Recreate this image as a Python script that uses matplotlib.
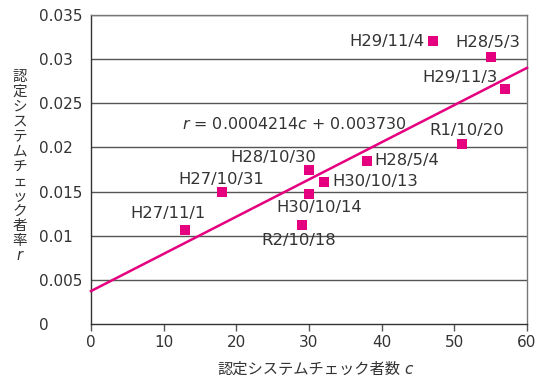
import matplotlib
matplotlib.use("Agg")
import matplotlib.pyplot as plt

plt.rcParams["font.family"] = ["DejaVu Sans", "Noto Sans CJK JP"]
plt.rcParams["mathtext.fontset"] = "dejavusans"

# data
labels = ["H27/11/1", "H27/10/31", "H28/10/30", "H30/10/13", "H30/10/14",
          "R2/10/18", "H28/5/4", "R1/10/20", "H29/11/4", "H28/5/3", "H29/11/3"]
checkers = [13, 18, 30, 32, 30, 29, 38, 51, 47, 55, 57]
rates = [0.0107, 0.0150, 0.0174, 0.0161, 0.0147, 0.0112,
         0.0185, 0.0204, 0.0320, 0.0302, 0.0266]
slope = 0.0004214
intercept = 0.003730
x_ticks = [0, 10, 20, 30, 40, 50, 60]
y_ticks = [0, 0.005, 0.01, 0.015, 0.02, 0.025, 0.03, 0.035]
y_tick_labels = ["0", "0.005", "0.01", "0.015", "0.02", "0.025", "0.03", "0.035"]

# label offsets (pixels, +y up) and horizontal alignment
label_pos = {
    "H27/11/1": (-17, 16, "center"),
    "H27/10/31": (-1, 12, "center"),
    "H28/10/30": (-36, 13, "center"),
    "H30/10/13": (9, 0, "left"),
    "H30/10/14": (10, -13, "center"),
    "R2/10/18": (-3, -15, "center"),
    "H28/5/4": (7, 0, "left"),
    "R1/10/20": (5, 13, "center"),
    "H29/11/4": (-8, 0, "right"),
    "H28/5/3": (-3, 15, "center"),
    "H29/11/3": (-45, 12, "center"),
}

pink = "#E4007F"
text_color = "#333333"

fig = plt.figure(figsize=(5.38, 3.79), dpi=100)
ax = fig.add_axes([91 / 538, 1 - 324 / 379, 436 / 538, 309 / 379])

ax.set_xlim(0, 60)
ax.set_ylim(0, 0.035)
for yv in y_ticks[1:]:
    ax.axhline(yv, color="#555555", linewidth=1.0, zorder=1)

line_x = [0, 60]
line_y = [intercept + slope * xv for xv in line_x]
ax.plot(line_x, line_y, color=pink, linewidth=1.8, zorder=3, clip_on=False)

ax.scatter(checkers, rates, marker="s", s=55, color=pink, zorder=4, linewidths=0)

for name, xv, yv in zip(labels, checkers, rates):
    dx, dy, ha = label_pos[name]
    ax.annotate(name, (xv, yv), xytext=(dx, dy), textcoords="offset pixels",
                ha=ha, va="center", fontsize=11.8, color=text_color, zorder=5)

ax.text(12.5, 0.02265, "$r$ = 0.0004214$c$ + 0.003730",
        fontsize=11.4, color=text_color, va="center", ha="left")

ax.set_xticks(x_ticks)
ax.set_xticklabels([str(t) for t in x_ticks], fontsize=11, color=text_color)
ax.set_yticks(y_ticks)
ax.set_yticklabels(y_tick_labels, fontsize=11, color=text_color, ha="left")
ax.tick_params(axis="x", direction="out", length=5, width=1, color="#555555", pad=3)
ax.tick_params(axis="y", length=0, pad=37.4)

for side in ["top", "right"]:
    ax.spines[side].set_color("#777777")
    ax.spines[side].set_linewidth(1.0)
for side in ["left", "bottom"]:
    ax.spines[side].set_color("#333333")
    ax.spines[side].set_linewidth(1.0)

# x label: Japanese part plus italic c
fig.text(400 / 538, 1 - 369 / 379, "認定システムチェック者数",
         fontsize=11, color=text_color, ha="right", va="center",
         family=["Noto Sans CJK JP", "DejaVu Sans"])
fig.text(404 / 538, 1 - 369 / 379, "c", fontsize=11, style="italic",
         color=text_color, ha="left", va="center")

ylab = "\n".join(list("認定システムチェック者率") + ["$r$"])
fig.text(20 / 538, 1 - 166 / 379, ylab, fontsize=10.5, color=text_color,
         ha="center", va="center", linespacing=1.0)

fig.savefig("out.png", dpi=100)
